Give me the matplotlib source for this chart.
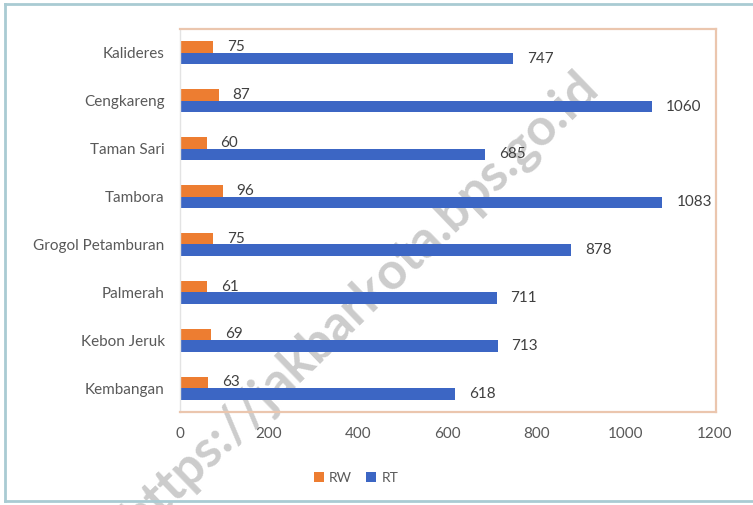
import matplotlib.pyplot as plt
from matplotlib.lines import Line2D
import numpy as np

# data (kecamatan di Jakarta Barat)
kecamatan = [
    "Kalideres",
    "Cengkareng",
    "Taman Sari",
    "Tambora",
    "Grogol Petamburan",
    "Palmerah",
    "Kebon Jeruk",
    "Kembangan",
]
rw = [75, 87, 60, 96, 75, 61, 69, 63]
rt = [747, 1060, 685, 1083, 878, 711, 713, 618]
x_ticks = [0, 200, 400, 600, 800, 1000, 1200]

plt.rcParams["font.family"] = ["Lato", "DejaVu Sans"]

fig = plt.figure(figsize=(7.53, 5.05), dpi=100)
ax = fig.add_axes([180 / 753, 1 - 412 / 505, (716 - 180) / 753, (412 - 29) / 505])

y = np.arange(len(kecamatan))
h = 0.24
b1 = ax.barh(y - h / 2, rw, height=h, color="#ED7D31", label="RW", zorder=2)
b2 = ax.barh(y + h / 2, rt, height=h, color="#3C66C4", label="RT", zorder=2)

ax.bar_label(b1, padding=10, fontsize=11, color="#404040")
ax.bar_label(b2, padding=10, fontsize=11, color="#404040")

ax.set_xlim(0, 1200 * 716 / 714 - 0.1)
ax.set_xticks(x_ticks)
ax.set_yticks(y)
ax.set_yticklabels(kecamatan)
ax.set_ylim(len(kecamatan) - 0.5, -0.5)
ax.tick_params(axis="both", length=0, labelsize=11, colors="#595959")
ax.tick_params(axis="y", pad=11)
ax.tick_params(axis="x", pad=11)

for s in ["top", "right", "bottom"]:
    ax.spines[s].set_color("#EBC6AE")
    ax.spines[s].set_linewidth(1.6)
ax.spines["left"].set_color("#E3E3E3")
ax.spines["left"].set_linewidth(1.0)

# legend
fig.legend(
    handles=[b1, b2],
    labels=["RW", "RT"],
    loc="center",
    bbox_to_anchor=(356 / 753, 1 - 478 / 505),
    ncol=2,
    frameon=False,
    fontsize=10,
    handlelength=0.7,
    handleheight=0.7,
    columnspacing=1.0,
    handletextpad=0.4,
    labelcolor="#595959",
)

# outer frame lines (kiri, atas, bawah)
border = "#A9CBD3"
fig.add_artist(Line2D([5 / 753, 5 / 753], [1 - 501 / 505, 1 - 4 / 505], color=border, lw=2))
fig.add_artist(Line2D([5 / 753, 1], [1 - 4 / 505, 1 - 4 / 505], color=border, lw=2))
fig.add_artist(Line2D([5 / 753, 1], [1 - 501 / 505, 1 - 501 / 505], color=border, lw=2))

# watermark, di belakang batang
ax.text(
    361 / 753,
    1 - 302 / 505,
    "https://jakbarkota.bps.go.id",
    transform=fig.transFigure,
    fontsize=37,
    fontweight="bold",
    color="#CCCCCC",
    rotation=44,
    ha="center",
    va="center",
    rotation_mode="anchor",
    clip_on=False,
    zorder=1,
)

fig.savefig("out.png", dpi=100)
